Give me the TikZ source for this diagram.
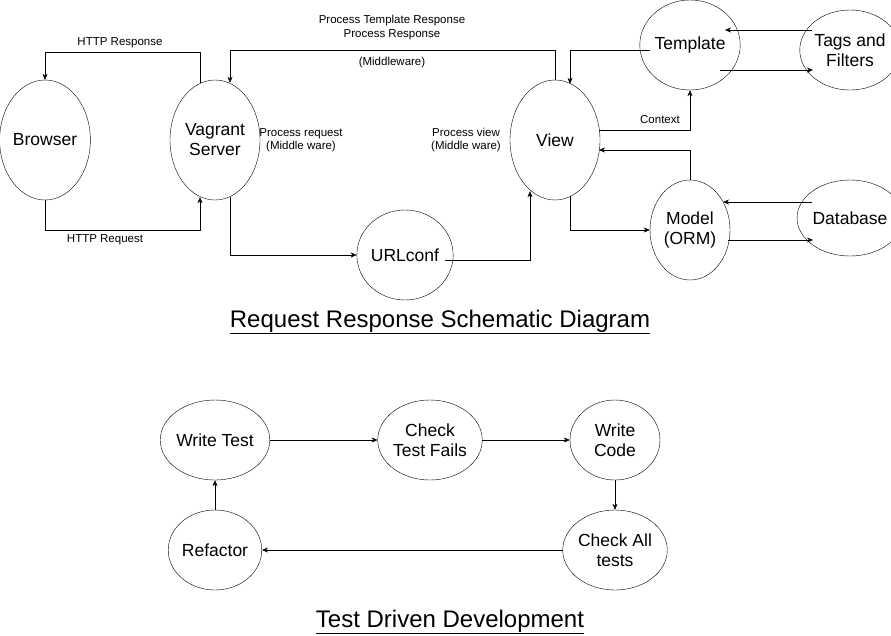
\documentclass[tikz,border=0pt]{standalone}
\usepackage{fontspec}
\setmainfont{Liberation Sans}
\usetikzlibrary{shapes.geometric,arrows.meta}
\begin{document}
\begin{tikzpicture}[x=1pt,y=-1pt,
  el/.style={draw,ellipse,inner sep=0pt,align=center,font=\fontsize{17.5}{20}\selectfont},
  lbl/.style={font=\fontsize{11.5}{13}\selectfont,align=center},
  ttl/.style={font=\fontsize{24}{27}\selectfont},
  arr/.style={-{Stealth[length=6pt,width=5pt]}}]
\useasboundingbox (0,0) rectangle (891,635);
\node[el,minimum width=90,minimum height=120] (br) at (45,140) {Browser};
\node[el,minimum width=90,minimum height=120] (vs) at (215,140) {Vagrant\\Server};
\node[el,minimum width=80,minimum height=90] (url) at (405,255) {URLconf};
\node[el,minimum width=90,minimum height=120] (vw) at (555,140) {View};
\node[el,minimum width=80,minimum height=90] (tp) at (690,45) {Template};
\node[el,minimum width=80,minimum height=80] (tf) at (850,50) {Tags and\\Filters};
\node[el,minimum width=80,minimum height=100] (md) at (690,230) {Model\\(ORM)};
\node[el,minimum width=80,minimum height=76] (db) at (850,218) {Database};
\node[el,minimum width=90,minimum height=80] (wt) at (215,440) {Write Test};
\node[el,minimum width=90,minimum height=80] (ct) at (430,440) {Check\\Test Fails};
\node[el,minimum width=90,minimum height=80] (wc) at (615,440) {Write\\Code};
\node[el,minimum width=90,minimum height=80] (ca) at (615,550) {Check All\\tests};
\node[el,minimum width=90,minimum height=80] (rf) at (215,550) {Refactor};
\coordinate (c1) at (45,52); \coordinate (c2) at (200,52);
\draw[arr] ([xshift=-15,yshift=-3]vs.north) -- (c2) -- (c1) -- (br.north);
\node[lbl] at (120,43) {HTTP Response};
\coordinate (c3) at (45,230); \coordinate (c4) at (200,230);
\draw[arr] (br.south) -- (c3) -- (c4) -- ([xshift=-15,yshift=3]vs.south);
\node[lbl] at (105,240) {HTTP Request};
\coordinate (c5) at (555,50); \coordinate (c6) at (230,50);
\draw[arr] (vw.north) -- (c5) -- (c6) -- ([xshift=15,yshift=-3]vs.north);
\node[lbl] at (392,21) {Process Template Response};
\node[lbl] at (392,35) {Process Response};
\node[lbl] at (392,63) {(Middleware)};
\coordinate (c7) at (230,255);
\draw[arr] ([xshift=15,yshift=3]vs.south) -- (c7) -- (url.west);
\coordinate (c8) at (530,260); \coordinate (u1) at (445,260);
\draw[arr] (u1) -- (c8) -- ([xshift=-25,yshift=9]vw.south);
\node[lbl] at (301,140) {Process request\\(Middle ware)};
\node[lbl] at (466,140) {Process view\\(Middle ware)};
\coordinate (c9) at (690,130); \coordinate (v1) at (599,130);
\draw[arr] (v1) -- (c9) -- (tp.south);
\node[lbl] at (660,120) {Context};
\coordinate (c10) at (570,50); \coordinate (t1s) at (650,50);
\draw[arr] (t1s) -- (c10) -- ([xshift=15,yshift=-4]vw.north);
\coordinate (c11) at (690,150); \coordinate (v2) at (599,150);
\draw[arr] (md.north) -- (c11) -- (v2);
\coordinate (c12) at (570,230);
\draw[arr] ([xshift=15,yshift=4]vw.south) -- (c12) -- (md.west);
\coordinate (a1) at (812,30); \coordinate (a2) at (725,30);
\coordinate (a3) at (720,70); \coordinate (a4) at (813,70);
\draw[arr] (a1) -- (a2);
\draw[arr] (a3) -- (a4);
\coordinate (b1) at (812,202); \coordinate (b2) at (723,202);
\coordinate (b3) at (728,240); \coordinate (b4) at (813,240);
\draw[arr] (b1) -- (b2);
\draw[arr] (b3) -- (b4);
\draw[arr] (wt.east) -- (ct.west);
\draw[arr] (ct.east) -- (wc.west);
\draw[arr] (wc.south) -- (ca.north);
\draw[arr] (ca.west) -- (rf.east);
\draw[arr] (rf.north) -- (wt.south);
\node[ttl] (ti1) at (440,322) {\underline{Request Response Schematic Diagram}};
\node[ttl] (ti2) at (450,622) {\underline{Test Driven Development}};
\end{tikzpicture}
\end{document}
